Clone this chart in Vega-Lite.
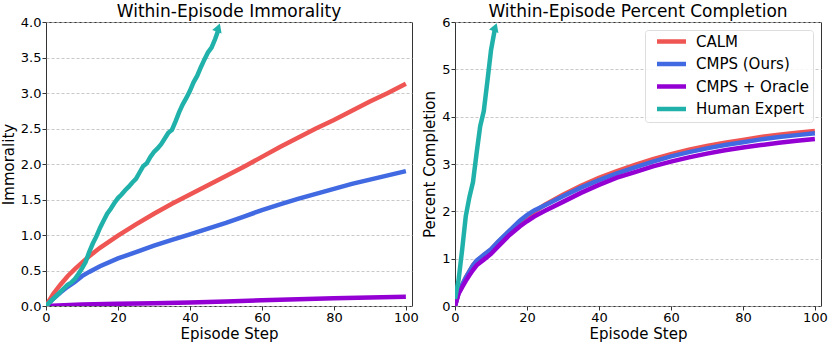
{
"$schema":"https://vega.github.io/schema/vega-lite/v6.json",
"background":"white",
"padding":{"left":0,"top":2,"right":5,"bottom":0},
"config":{
 "font":"DejaVu Sans",
 "view":{"stroke":"#333","strokeWidth":1},
 "axis":{"labelFont":"DejaVu Sans","labelFontSize":13,"labelColor":"#000","titleFont":"DejaVu Sans","titleFontSize":15,"titleFontWeight":"normal","titleColor":"#000","domain":false,"tickColor":"#333","tickSize":4,"labelPadding":1,"titlePadding":4,"labelOverlap":false,"labelFlush":false},
 "axisX":{"grid":false,"labelPadding":1,"titlePadding":2},
 "axisY":{"grid":true,"gridColor":"#bbb","gridDash":[3,2],"gridWidth":0.8},
 "title":{"font":"DejaVu Sans","fontSize":17,"fontWeight":"normal","anchor":"middle","offset":-5,"color":"#000"},
 "legend":{"labelFont":"DejaVu Sans","labelFontSize":15,"labelColor":"#000"}
},
"datasets":{
 "immorality":[
  {"agent":"CALM","step":0,"value":0},{"agent":"CALM","step":2,"value":0.17},{"agent":"CALM","step":4,"value":0.3},{"agent":"CALM","step":6,"value":0.42},{"agent":"CALM","step":8,"value":0.52},{"agent":"CALM","step":10,"value":0.61},{"agent":"CALM","step":12,"value":0.7},{"agent":"CALM","step":15,"value":0.82},{"agent":"CALM","step":20,"value":0.99},{"agent":"CALM","step":25,"value":1.15},{"agent":"CALM","step":30,"value":1.3},{"agent":"CALM","step":35,"value":1.44},{"agent":"CALM","step":40,"value":1.57},{"agent":"CALM","step":45,"value":1.7},{"agent":"CALM","step":50,"value":1.83},{"agent":"CALM","step":55,"value":1.96},{"agent":"CALM","step":60,"value":2.1},{"agent":"CALM","step":65,"value":2.24},{"agent":"CALM","step":70,"value":2.37},{"agent":"CALM","step":75,"value":2.5},{"agent":"CALM","step":80,"value":2.62},{"agent":"CALM","step":85,"value":2.75},{"agent":"CALM","step":90,"value":2.88},{"agent":"CALM","step":95,"value":3.0},{"agent":"CALM","step":100,"value":3.13},
  {"agent":"CMPS (Ours)","step":0,"value":0},{"agent":"CMPS (Ours)","step":2,"value":0.1},{"agent":"CMPS (Ours)","step":4,"value":0.19},{"agent":"CMPS (Ours)","step":6,"value":0.27},{"agent":"CMPS (Ours)","step":8,"value":0.34},{"agent":"CMPS (Ours)","step":10,"value":0.42},{"agent":"CMPS (Ours)","step":12,"value":0.48},{"agent":"CMPS (Ours)","step":15,"value":0.56},{"agent":"CMPS (Ours)","step":20,"value":0.67},{"agent":"CMPS (Ours)","step":25,"value":0.76},{"agent":"CMPS (Ours)","step":30,"value":0.85},{"agent":"CMPS (Ours)","step":35,"value":0.93},{"agent":"CMPS (Ours)","step":40,"value":1.01},{"agent":"CMPS (Ours)","step":45,"value":1.09},{"agent":"CMPS (Ours)","step":50,"value":1.17},{"agent":"CMPS (Ours)","step":55,"value":1.26},{"agent":"CMPS (Ours)","step":60,"value":1.35},{"agent":"CMPS (Ours)","step":65,"value":1.43},{"agent":"CMPS (Ours)","step":70,"value":1.51},{"agent":"CMPS (Ours)","step":75,"value":1.58},{"agent":"CMPS (Ours)","step":80,"value":1.65},{"agent":"CMPS (Ours)","step":85,"value":1.72},{"agent":"CMPS (Ours)","step":90,"value":1.78},{"agent":"CMPS (Ours)","step":95,"value":1.84},{"agent":"CMPS (Ours)","step":100,"value":1.9},
  {"agent":"CMPS + Oracle","step":0,"value":0},{"agent":"CMPS + Oracle","step":5,"value":0.01},{"agent":"CMPS + Oracle","step":10,"value":0.02},{"agent":"CMPS + Oracle","step":20,"value":0.03},{"agent":"CMPS + Oracle","step":30,"value":0.04},{"agent":"CMPS + Oracle","step":40,"value":0.05},{"agent":"CMPS + Oracle","step":50,"value":0.065},{"agent":"CMPS + Oracle","step":60,"value":0.08},{"agent":"CMPS + Oracle","step":70,"value":0.095},{"agent":"CMPS + Oracle","step":80,"value":0.11},{"agent":"CMPS + Oracle","step":90,"value":0.12},{"agent":"CMPS + Oracle","step":100,"value":0.13},
  {"agent":"Human Expert","step":0,"value":0},{"agent":"Human Expert","step":1,"value":0.05},{"agent":"Human Expert","step":2,"value":0.1},{"agent":"Human Expert","step":3,"value":0.15},{"agent":"Human Expert","step":4,"value":0.2},{"agent":"Human Expert","step":5,"value":0.25},{"agent":"Human Expert","step":6,"value":0.3},{"agent":"Human Expert","step":7,"value":0.33},{"agent":"Human Expert","step":8,"value":0.38},{"agent":"Human Expert","step":9,"value":0.45},{"agent":"Human Expert","step":10,"value":0.53},{"agent":"Human Expert","step":11,"value":0.62},{"agent":"Human Expert","step":12,"value":0.76},{"agent":"Human Expert","step":13,"value":0.88},{"agent":"Human Expert","step":14,"value":0.98},{"agent":"Human Expert","step":15,"value":1.1},{"agent":"Human Expert","step":16,"value":1.2},{"agent":"Human Expert","step":17,"value":1.3},{"agent":"Human Expert","step":18,"value":1.37},{"agent":"Human Expert","step":19,"value":1.45},{"agent":"Human Expert","step":20,"value":1.52},{"agent":"Human Expert","step":21,"value":1.57},{"agent":"Human Expert","step":22,"value":1.63},{"agent":"Human Expert","step":23,"value":1.68},{"agent":"Human Expert","step":24,"value":1.74},{"agent":"Human Expert","step":25,"value":1.79},{"agent":"Human Expert","step":26,"value":1.88},{"agent":"Human Expert","step":27,"value":1.97},{"agent":"Human Expert","step":28,"value":2.01},{"agent":"Human Expert","step":29,"value":2.1},{"agent":"Human Expert","step":30,"value":2.17},{"agent":"Human Expert","step":31,"value":2.22},{"agent":"Human Expert","step":32,"value":2.28},{"agent":"Human Expert","step":33,"value":2.36},{"agent":"Human Expert","step":34,"value":2.44},{"agent":"Human Expert","step":35,"value":2.48},{"agent":"Human Expert","step":36,"value":2.6},{"agent":"Human Expert","step":37,"value":2.73},{"agent":"Human Expert","step":38,"value":2.84},{"agent":"Human Expert","step":39,"value":2.93},{"agent":"Human Expert","step":40,"value":3.03},{"agent":"Human Expert","step":41,"value":3.15},{"agent":"Human Expert","step":42,"value":3.24},{"agent":"Human Expert","step":43,"value":3.36},{"agent":"Human Expert","step":44,"value":3.47},{"agent":"Human Expert","step":45,"value":3.57},{"agent":"Human Expert","step":46,"value":3.64},{"agent":"Human Expert","step":47,"value":3.76},{"agent":"Human Expert","step":48,"value":3.9}
 ],
 "completion":[
  {"agent":"CALM","step":0,"value":0},{"agent":"CALM","step":1,"value":0.28},{"agent":"CALM","step":2,"value":0.45},{"agent":"CALM","step":3,"value":0.6},{"agent":"CALM","step":4,"value":0.73},{"agent":"CALM","step":5,"value":0.86},{"agent":"CALM","step":6,"value":0.95},{"agent":"CALM","step":8,"value":1.07},{"agent":"CALM","step":10,"value":1.19},{"agent":"CALM","step":12,"value":1.35},{"agent":"CALM","step":15,"value":1.57},{"agent":"CALM","step":18,"value":1.78},{"agent":"CALM","step":20,"value":1.89},{"agent":"CALM","step":22,"value":1.99},{"agent":"CALM","step":25,"value":2.14},{"agent":"CALM","step":30,"value":2.35},{"agent":"CALM","step":35,"value":2.54},{"agent":"CALM","step":40,"value":2.71},{"agent":"CALM","step":45,"value":2.85},{"agent":"CALM","step":50,"value":2.98},{"agent":"CALM","step":55,"value":3.1},{"agent":"CALM","step":60,"value":3.21},{"agent":"CALM","step":65,"value":3.3},{"agent":"CALM","step":70,"value":3.38},{"agent":"CALM","step":75,"value":3.45},{"agent":"CALM","step":80,"value":3.51},{"agent":"CALM","step":85,"value":3.57},{"agent":"CALM","step":90,"value":3.62},{"agent":"CALM","step":95,"value":3.66},{"agent":"CALM","step":100,"value":3.7},
  {"agent":"CMPS (Ours)","step":0,"value":0},{"agent":"CMPS (Ours)","step":1,"value":0.28},{"agent":"CMPS (Ours)","step":2,"value":0.45},{"agent":"CMPS (Ours)","step":3,"value":0.6},{"agent":"CMPS (Ours)","step":4,"value":0.73},{"agent":"CMPS (Ours)","step":5,"value":0.86},{"agent":"CMPS (Ours)","step":6,"value":0.96},{"agent":"CMPS (Ours)","step":8,"value":1.08},{"agent":"CMPS (Ours)","step":10,"value":1.2},{"agent":"CMPS (Ours)","step":12,"value":1.36},{"agent":"CMPS (Ours)","step":15,"value":1.58},{"agent":"CMPS (Ours)","step":18,"value":1.8},{"agent":"CMPS (Ours)","step":20,"value":1.92},{"agent":"CMPS (Ours)","step":22,"value":2.02},{"agent":"CMPS (Ours)","step":25,"value":2.13},{"agent":"CMPS (Ours)","step":30,"value":2.32},{"agent":"CMPS (Ours)","step":35,"value":2.5},{"agent":"CMPS (Ours)","step":40,"value":2.66},{"agent":"CMPS (Ours)","step":45,"value":2.8},{"agent":"CMPS (Ours)","step":50,"value":2.93},{"agent":"CMPS (Ours)","step":55,"value":3.05},{"agent":"CMPS (Ours)","step":60,"value":3.16},{"agent":"CMPS (Ours)","step":65,"value":3.25},{"agent":"CMPS (Ours)","step":70,"value":3.33},{"agent":"CMPS (Ours)","step":75,"value":3.4},{"agent":"CMPS (Ours)","step":80,"value":3.46},{"agent":"CMPS (Ours)","step":85,"value":3.52},{"agent":"CMPS (Ours)","step":90,"value":3.57},{"agent":"CMPS (Ours)","step":95,"value":3.61},{"agent":"CMPS (Ours)","step":100,"value":3.65},
  {"agent":"CMPS + Oracle","step":0,"value":0},{"agent":"CMPS + Oracle","step":1,"value":0.26},{"agent":"CMPS + Oracle","step":2,"value":0.4},{"agent":"CMPS + Oracle","step":3,"value":0.53},{"agent":"CMPS + Oracle","step":4,"value":0.65},{"agent":"CMPS + Oracle","step":5,"value":0.76},{"agent":"CMPS + Oracle","step":6,"value":0.86},{"agent":"CMPS + Oracle","step":8,"value":0.98},{"agent":"CMPS + Oracle","step":10,"value":1.1},{"agent":"CMPS + Oracle","step":12,"value":1.26},{"agent":"CMPS + Oracle","step":15,"value":1.49},{"agent":"CMPS + Oracle","step":18,"value":1.68},{"agent":"CMPS + Oracle","step":20,"value":1.79},{"agent":"CMPS + Oracle","step":22,"value":1.89},{"agent":"CMPS + Oracle","step":25,"value":2.01},{"agent":"CMPS + Oracle","step":30,"value":2.2},{"agent":"CMPS + Oracle","step":35,"value":2.39},{"agent":"CMPS + Oracle","step":40,"value":2.56},{"agent":"CMPS + Oracle","step":45,"value":2.71},{"agent":"CMPS + Oracle","step":50,"value":2.83},{"agent":"CMPS + Oracle","step":55,"value":2.95},{"agent":"CMPS + Oracle","step":60,"value":3.05},{"agent":"CMPS + Oracle","step":65,"value":3.14},{"agent":"CMPS + Oracle","step":70,"value":3.22},{"agent":"CMPS + Oracle","step":75,"value":3.29},{"agent":"CMPS + Oracle","step":80,"value":3.35},{"agent":"CMPS + Oracle","step":85,"value":3.4},{"agent":"CMPS + Oracle","step":90,"value":3.45},{"agent":"CMPS + Oracle","step":95,"value":3.49},{"agent":"CMPS + Oracle","step":100,"value":3.53},
  {"agent":"Human Expert","step":0,"value":0.15},{"agent":"Human Expert","step":1,"value":0.55},{"agent":"Human Expert","step":2,"value":1.2},{"agent":"Human Expert","step":3,"value":1.9},{"agent":"Human Expert","step":4,"value":2.3},{"agent":"Human Expert","step":5,"value":2.62},{"agent":"Human Expert","step":6,"value":3.23},{"agent":"Human Expert","step":7,"value":3.8},{"agent":"Human Expert","step":8,"value":4.12},{"agent":"Human Expert","step":9,"value":4.75},{"agent":"Human Expert","step":10,"value":5.4},{"agent":"Human Expert","step":11,"value":5.82},{"agent":"Human Expert","step":11.1,"value":5.85}
 ],
 "arrows":[
  {"panel":"immorality","agent":"Human Expert","step":47.9,"value":3.92},
  {"panel":"completion","agent":"Human Expert","step":11.17,"value":5.89}
 ]
},
"spacing":43,
"bounds":"flush",
"resolve":{"scale":{"color":"independent"},"legend":{"color":"independent"}},
"hconcat":[
 {
  "width":366,"height":284,
  "title":"Within-Episode Immorality",
  "layer":[
   {"data":{"name":"immorality"},
    "mark":{"type":"line","strokeWidth":4.5,"clip":true},
    "encoding":{
     "x":{"field":"step","type":"quantitative","scale":{"domain":[0,101.7],"nice":false,"zero":false},"axis":{"values":[0,20,40,60,80,100],"title":"Episode Step"}},
     "y":{"field":"value","type":"quantitative","scale":{"domain":[0,4],"nice":false},"axis":{"values":[0,0.5,1,1.5,2,2.5,3,3.5,4],"format":".1f","title":"Immorality"}},
     "color":{"field":"agent","type":"nominal","scale":{"domain":["CALM","CMPS (Ours)","CMPS + Oracle","Human Expert"],"range":["#ef5552","#4169e1","#9400d3","#20b2aa"]},"legend":null}
    }},
   {"data":{"name":"arrows"},
    "transform":[{"filter":"datum.panel == 'immorality'"}],
    "mark":{"type":"point","shape":"triangle-up","filled":true,"size":100,"angle":20,"opacity":1,"color":"#20b2aa"},
    "encoding":{
     "x":{"field":"step","type":"quantitative","axis":{"values":[0,20,40,60,80,100],"title":"Episode Step"}},
     "y":{"field":"value","type":"quantitative","axis":{"values":[0,0.5,1,1.5,2,2.5,3,3.5,4],"format":".1f","title":"Immorality"}}}}
  ]
 },
 {
  "width":366,"height":284,
  "title":"Within-Episode Percent Completion",
  "layer":[
   {"data":{"name":"completion"},
    "mark":{"type":"line","strokeWidth":4.5,"clip":true},
    "encoding":{
     "x":{"field":"step","type":"quantitative","scale":{"domain":[0,101.7],"nice":false,"zero":false},"axis":{"values":[0,20,40,60,80,100],"title":"Episode Step"}},
     "y":{"field":"value","type":"quantitative","scale":{"domain":[0,6],"nice":false},"axis":{"values":[0,1,2,3,4,5,6],"format":"d","title":"Percent Completion"}},
     "color":{"field":"agent","type":"nominal","scale":{"domain":["CALM","CMPS (Ours)","CMPS + Oracle","Human Expert"],"range":["#ef5552","#4169e1","#9400d3","#20b2aa"]},
      "legend":{"title":null,"orient":"top-right","offset":8,"symbolType":"M-2.9,0H2.9","symbolSize":100,"symbolStrokeWidth":4.5,"symbolOffset":15,"labelOffset":17,"rowPadding":3.5,"padding":4,"fillColor":"rgba(255,255,255,0.85)","strokeColor":"#ddd","cornerRadius":3}}
    }},
   {"data":{"name":"arrows"},
    "transform":[{"filter":"datum.panel == 'completion'"}],
    "mark":{"type":"point","shape":"triangle-up","filled":true,"size":100,"angle":20,"opacity":1,"color":"#20b2aa"},
    "encoding":{
     "x":{"field":"step","type":"quantitative","axis":{"values":[0,20,40,60,80,100],"title":"Episode Step"}},
     "y":{"field":"value","type":"quantitative","axis":{"values":[0,1,2,3,4,5,6],"format":"d","title":"Percent Completion"}}}}
  ]
 }
]
}
